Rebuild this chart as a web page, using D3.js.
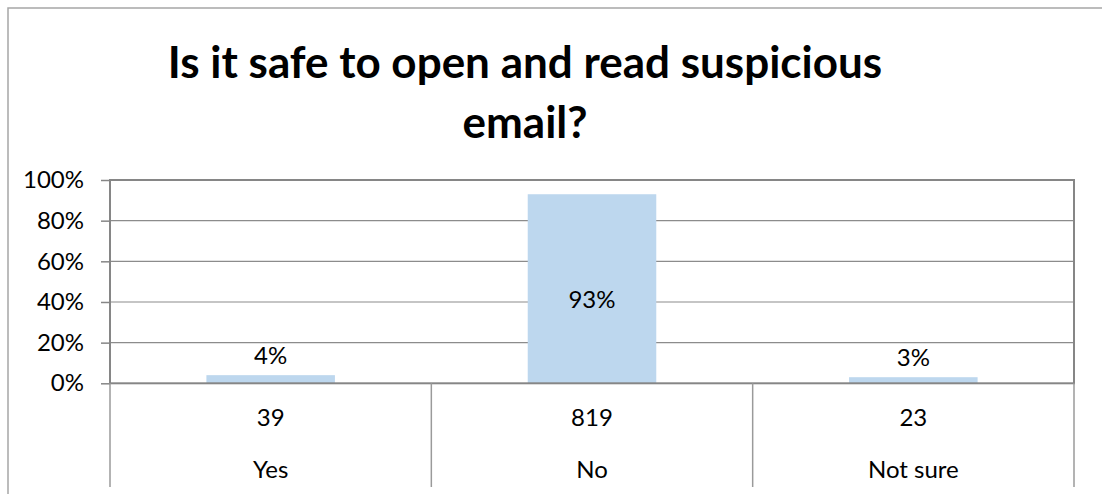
<!DOCTYPE html>
<html>
<head>
<meta charset="utf-8">
<script src="https://cdn.jsdelivr.net/npm/d3@7"></script>
<style>
  html, body { margin: 0; padding: 0; background: #fff; }
  svg { display: block; }
  text { font-family: Lato, "Open Sans", sans-serif; fill: #000; }
</style>
</head>
<body>
<svg id="chart" width="1102" height="494"></svg>
<script>
// Survey answers
const categories = ["Yes", "No", "Not sure"];
const counts = [39, 819, 23];
const percents = [4, 93, 3];
const yTicks = [0, 20, 40, 60, 80, 100];
const titleLines = ["Is it safe to open and read suspicious", "email?"];

const W = 1102, H = 494;
const plot = { left: 110, right: 1074, top: 180, bottom: 383.3 };
const tableBottom = 487;
const labelSize = "24px";

const svg = d3.select("#chart");

// outer chart frame (extends past the visible area on the right and bottom)
svg.append("rect")
  .attr("x", 8).attr("y", 8)
  .attr("width", W + 20).attr("height", H + 20)
  .attr("fill", "none")
  .attr("stroke", "#a6a6a6")
  .attr("stroke-width", 1.5);

// title
const title = svg.append("text")
  .attr("text-anchor", "middle")
  .style("font-weight", "bold")
  .style("font-size", "44px");
title.selectAll("tspan")
  .data(titleLines)
  .join("tspan")
  .attr("x", 525)
  .attr("y", (d, i) => 78 + i * 60)
  .text(d => d);

const x = d3.scaleBand()
  .domain(categories)
  .range([plot.left, plot.right])
  .padding(0);

const y = d3.scaleLinear()
  .domain([0, 100])
  .range([plot.bottom, plot.top]);

const barW = x.bandwidth() * 0.4;

// gridlines
svg.append("g")
  .selectAll("line")
  .data(yTicks.filter(t => t > 0 && t < 100))
  .join("line")
  .attr("x1", plot.left).attr("x2", plot.right)
  .attr("y1", d => y(d)).attr("y2", d => y(d))
  .attr("stroke", "#8c8c8c")
  .attr("stroke-width", 1.2);

// bars
svg.append("g")
  .selectAll("rect")
  .data(categories)
  .join("rect")
  .attr("x", (d) => x(d) + (x.bandwidth() - barW) / 2)
  .attr("width", barW)
  .attr("y", (d, i) => y(percents[i]))
  .attr("height", (d, i) => y(0) - y(percents[i]))
  .attr("fill", "#bdd7ee");

// plot area frame
svg.append("rect")
  .attr("x", plot.left).attr("y", plot.top)
  .attr("width", plot.right - plot.left)
  .attr("height", plot.bottom - plot.top)
  .attr("fill", "none")
  .attr("stroke", "#868686")
  .attr("stroke-width", 2);

// y axis
const yAxis = d3.axisLeft(y)
  .tickValues(yTicks)
  .tickFormat(d => d + "%")
  .tickSize(9)
  .tickPadding(17);
const ag = svg.append("g")
  .attr("transform", `translate(${plot.left},0)`)
  .call(yAxis);
ag.select(".domain").remove();
ag.selectAll(".tick line").attr("stroke", "#868686").attr("stroke-width", 1.5);
ag.selectAll(".tick text")
  .style("font-family", "Lato, 'Open Sans', sans-serif")
  .style("font-size", labelSize)
  .attr("fill", "#000");

// data labels
svg.append("g")
  .selectAll("text")
  .data(categories)
  .join("text")
  .attr("x", d => x(d) + x.bandwidth() / 2)
  .attr("y", (d, i) => percents[i] > 50 ? y(percents[i] / 2) + 11 : y(percents[i]) - 11)
  .attr("dy", (d, i) => percents[i] > 50 ? "0.35em" : 0)
  .attr("text-anchor", "middle")
  .style("font-size", labelSize)
  .text((d, i) => percents[i] + "%");

// data table under the axis
const boundaries = categories.map(c => x(c)).concat([plot.right]);
svg.append("g")
  .selectAll("line")
  .data(boundaries)
  .join("line")
  .attr("x1", d => d).attr("x2", d => d)
  .attr("y1", plot.bottom).attr("y2", tableBottom)
  .attr("stroke", "#9a9a9a")
  .attr("stroke-width", 1.5);

svg.append("g")
  .selectAll("text")
  .data(categories)
  .join("text")
  .attr("x", d => x(d) + x.bandwidth() / 2)
  .attr("y", 418)
  .attr("dy", "0.35em")
  .attr("text-anchor", "middle")
  .style("font-size", labelSize)
  .text((d, i) => counts[i]);

svg.append("g")
  .selectAll("text")
  .data(categories)
  .join("text")
  .attr("x", d => x(d) + x.bandwidth() / 2)
  .attr("y", 470)
  .attr("dy", "0.35em")
  .attr("text-anchor", "middle")
  .style("font-size", labelSize)
  .text(d => d);
</script>
</body>
</html>
